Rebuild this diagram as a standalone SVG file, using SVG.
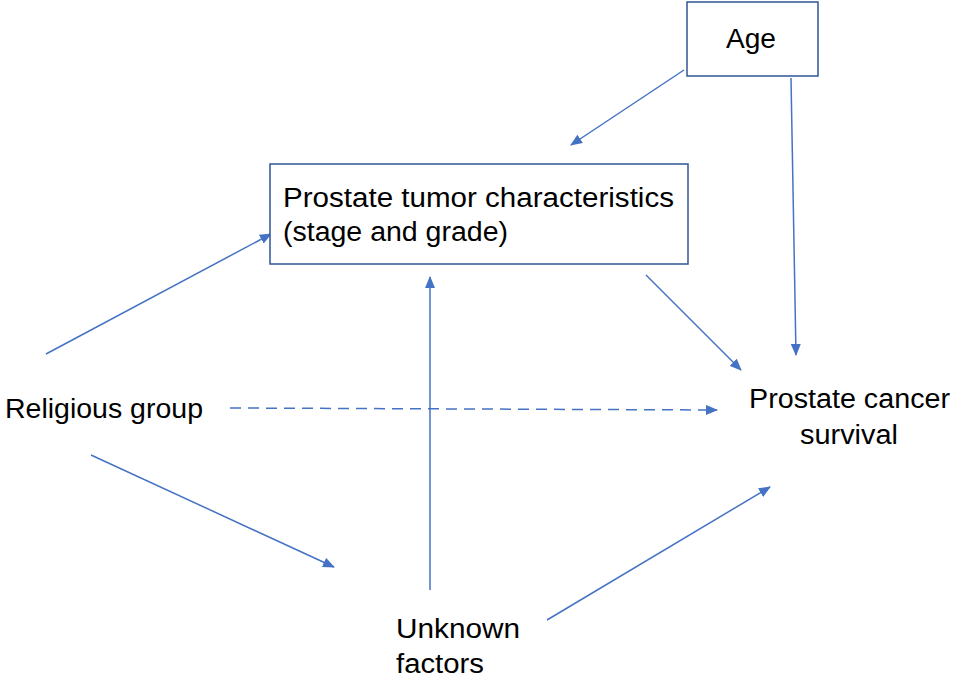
<svg xmlns="http://www.w3.org/2000/svg" width="953" height="681" viewBox="0 0 953 681">
<style>
text{font-family:"Liberation Sans","Noto Sans",sans-serif;font-size:27px;fill:#000}
.box{fill:#fff;stroke:#2F5597;stroke-width:1.5}
.c{stroke:#4472C4;stroke-width:1.5;fill:none;marker-end:url(#ah)}
.d{stroke-dasharray:11 7}
</style>
<defs>
<marker id="ah" viewBox="0 0 12 10" refX="11" refY="5" markerWidth="12" markerHeight="10" markerUnits="userSpaceOnUse" orient="auto">
<path d="M0,0 L12,5 L0,10 z" fill="#4472C4"/>
</marker>
</defs>
<rect width="953" height="681" fill="#fff"/>
<g id="connectors">
<line class="c" x1="684" y1="70" x2="571" y2="145"/>
<line class="c" x1="791" y1="78" x2="796" y2="355"/>
<line class="c" x1="646" y1="275" x2="741" y2="370"/>
<line class="c" x1="46" y1="354" x2="271" y2="234"/>
<line class="c d" x1="230" y1="408" x2="717" y2="410"/>
<line class="c" x1="91" y1="455" x2="334" y2="567"/>
<line class="c" x1="430" y1="590" x2="430" y2="277"/>
<line class="c" x1="547" y1="620" x2="770" y2="487"/>
</g>
<g id="age">
<rect class="box" x="687" y="2" width="131" height="74"/>
<text x="751" y="48" text-anchor="middle" textLength="50" lengthAdjust="spacingAndGlyphs">Age</text>
</g>
<g id="tumor">
<rect class="box" x="270" y="164" width="418" height="100"/>
<text x="283" y="207" textLength="391" lengthAdjust="spacingAndGlyphs">Prostate tumor characteristics</text>
<text x="283" y="241" textLength="225" lengthAdjust="spacingAndGlyphs">(stage and grade)</text>
</g>
<g id="religious">
<text x="5" y="418" textLength="198" lengthAdjust="spacingAndGlyphs">Religious group</text>
</g>
<g id="survival">
<text x="749" y="408" textLength="201" lengthAdjust="spacingAndGlyphs">Prostate cancer</text>
<text x="849" y="444" text-anchor="middle" textLength="98" lengthAdjust="spacingAndGlyphs">survival</text>
</g>
<g id="unknown">
<text x="396" y="638" textLength="124" lengthAdjust="spacingAndGlyphs">Unknown</text>
<text x="396" y="673" textLength="88" lengthAdjust="spacingAndGlyphs">factors</text>
</g>
</svg>
